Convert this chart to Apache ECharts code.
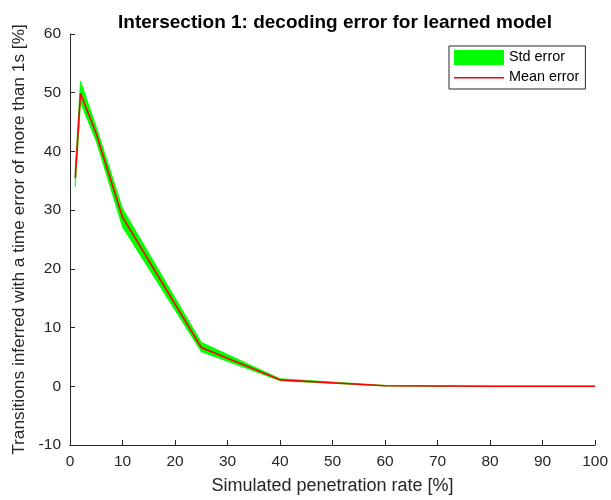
<!DOCTYPE html>
<html>
<head>
<meta charset="utf-8">
<script src="https://cdn.jsdelivr.net/npm/echarts@6/dist/echarts.min.js"></script>
<style>html,body{margin:0;padding:0;background:#fff}#c{width:611px;height:500px}</style>
</head>
<body>
<div id="c"></div>
<script>
var rates = [1, 2, 5, 10, 25, 40, 60, 80, 100];
var meanErr = [35.5, 49.9, 43.0, 28.8, 6.6, 1.1, 0.1, 0.0, 0.0];
var lowerErr = [34.0, 48.3, 41.7, 27.1, 5.9, 0.95, 0.05, 0.0, 0.0];
var upperErr = [36.8, 52.0, 44.2, 30.3, 7.5, 1.3, 0.15, 0.0, 0.0];
var xTicks = [0, 10, 20, 30, 40, 50, 60, 70, 80, 90, 100];
var yTicks = [-10, 0, 10, 20, 30, 40, 50, 60];

var txt = '#262626';
var font = 'Liberation Sans';
var bandData = rates.map(function (r, i) { return [r, lowerErr[i], upperErr[i]]; });
var meanData = rates.map(function (r, i) { return [r, meanErr[i]]; });

function renderBand(params, api) {
  if (params.dataIndex !== 0) return null;
  var top = [], bottom = [];
  for (var i = 0; i < rates.length; i++) {
    top.push(api.coord([rates[i], upperErr[i]]));
    bottom.unshift(api.coord([rates[i], lowerErr[i]]));
  }
  return {
    type: 'polygon',
    shape: {points: top.concat(bottom)},
    style: {fill: '#00ff00', stroke: '#00ff00', lineWidth: 0.8}
  };
}

var lineIcon = 'path://M0,0L0.5,0L0.5,0.001Z M0,7L50,7L50,8.6L0,8.6Z M0,15L0.5,15L0.5,15.001Z';

var chart = echarts.init(document.getElementById('c'), null, {renderer: 'canvas'});
chart.setOption({
  animation: false,
  backgroundColor: '#fff',
  textStyle: {fontFamily: font},
  title: {
    text: 'Intersection 1: decoding error for learned model',
    left: 330, top: 8, textAlign: 'center',
    textStyle: {fontFamily: font, fontWeight: 'bold', fontSize: 19, color: '#000'}
  },
  grid: {left: 70, right: 12, top: 34, bottom: 50},
  legend: {
    orient: 'vertical', left: 449, top: 46,
    padding: [4, 6, 4, 5], itemGap: 5, itemWidth: 50, itemHeight: 15, itemTextGap: 3,
    borderColor: '#262626', borderWidth: 1, backgroundColor: '#fff',
    textStyle: {fontFamily: font, fontSize: 14.4, color: '#000'},
    data: [
      {name: 'Std error', icon: 'rect', itemStyle: {color: '#00ff00', borderWidth: 0}},
      {name: 'Mean error', icon: lineIcon, itemStyle: {color: '#ff0000', borderWidth: 0}}
    ]
  },
  xAxis: {
    type: 'value', min: xTicks[0], max: xTicks[xTicks.length - 1], interval: 10,
    name: 'Simulated penetration rate [%]', nameLocation: 'middle', nameGap: 32,
    nameTextStyle: {fontFamily: font, fontSize: 18, color: txt},
    axisLine: {show: true, onZero: false, lineStyle: {color: txt, width: 1}},
    axisTick: {show: true, inside: true, length: 5, lineStyle: {color: txt}},
    axisLabel: {color: txt, fontSize: 15.5, fontFamily: font, margin: 9},
    splitLine: {show: false}
  },
  yAxis: {
    type: 'value', min: yTicks[0], max: yTicks[yTicks.length - 1], interval: 10,
    name: 'Transitions inferred with a time error of more than 1s [%]',
    nameLocation: 'middle', nameGap: 40, nameRotate: 90,
    nameTextStyle: {fontFamily: font, fontSize: 17.3, color: txt},
    axisLine: {show: true, onZero: false, lineStyle: {color: txt, width: 1}},
    axisTick: {show: true, inside: true, length: 5, lineStyle: {color: txt}},
    axisLabel: {color: txt, fontSize: 15.5, fontFamily: font, margin: 9},
    splitLine: {show: false}
  },
  series: [
    {
      name: 'Std error', type: 'custom', data: bandData,
      renderItem: renderBand, itemStyle: {color: '#00ff00'}, silent: true, z: 2
    },
    {
      name: 'Mean error', type: 'line', data: meanData, symbol: 'none',
      itemStyle: {color: '#ff0000'},
      lineStyle: {color: '#ff0000', width: 1.6}, z: 5
    }
  ]
});
</script>
</body>
</html>
